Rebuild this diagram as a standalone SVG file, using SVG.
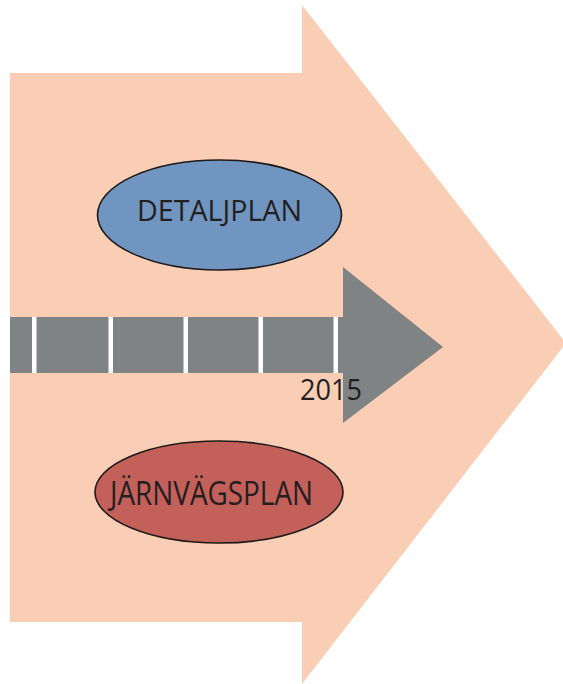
<svg xmlns="http://www.w3.org/2000/svg" width="563" height="684" viewBox="0 0 563 684">
  <style>
    .lbl { font-family: "Open Sans", "Liberation Sans", Arial, sans-serif; fill: #231F20; }
    .oval { stroke: #1E1A1A; stroke-width: 1.6; }
    .sep { fill: #FFFFFF; }
  </style>
  <rect x="0" y="0" width="563" height="684" fill="#FFFFFF"/>
  <g id="big-arrow">
    <path d="M10 73 L302 73 L302 5 L566 343 L302 684 L302 622 L10 622 Z" fill="#FACDB5"/>
  </g>
  <g id="timeline">
    <path d="M10 317 L343 317 L343 267 L443 347 L343 423 L343 373 L10 373 Z" fill="#7F8384"/>
    <rect class="sep" x="32" y="317" width="4.5" height="56"/>
    <rect class="sep" x="108.5" y="317" width="4.5" height="56"/>
    <rect class="sep" x="183.5" y="317" width="4.5" height="56"/>
    <rect class="sep" x="258.5" y="317" width="4.5" height="56"/>
    <rect class="sep" x="333.5" y="317" width="4.5" height="56"/>
    <text class="lbl" x="300" y="400" font-size="30" textLength="62" lengthAdjust="spacingAndGlyphs">2015</text>
  </g>
  <g id="detaljplan">
    <ellipse class="oval" cx="219.5" cy="215" rx="122" ry="55" fill="#6F95C0"/>
    <text class="lbl" x="219.5" y="221" font-size="29" text-anchor="middle" textLength="165" lengthAdjust="spacingAndGlyphs">DETALJPLAN</text>
  </g>
  <g id="jarnvagsplan">
    <ellipse class="oval" cx="219" cy="492" rx="124" ry="51" fill="#C4605A"/>
    <text class="lbl" x="211.5" y="505" font-size="33" text-anchor="middle" textLength="203" lengthAdjust="spacingAndGlyphs">JÄRNVÄGSPLAN</text>
  </g>
</svg>
